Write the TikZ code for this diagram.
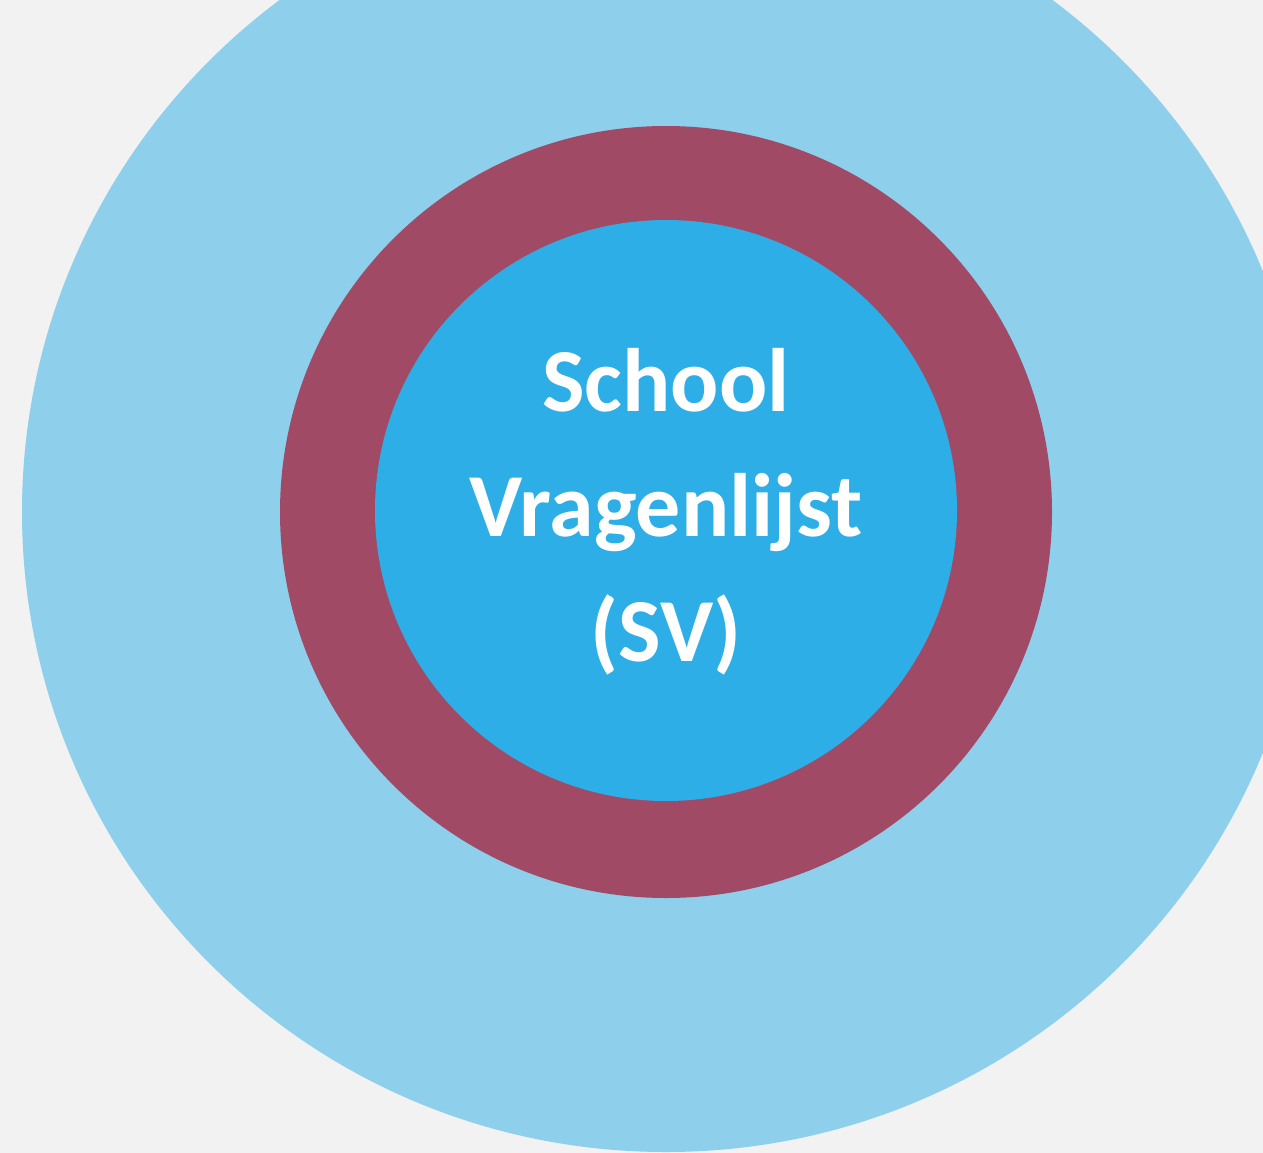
\documentclass[tikz,border=0pt]{standalone}
\usepackage{fontspec}
\setmainfont{Carlito}
\definecolor{bgc}{HTML}{F2F2F2}
\definecolor{outerc}{HTML}{8ECFEB}
\definecolor{ringc}{HTML}{A04A66}
\definecolor{innerc}{HTML}{2EAEE6}
\begin{document}
\begin{tikzpicture}[x=1pt,y=-1pt,
  lbl/.style={text=white,font=\bfseries\fontsize{90}{90}\selectfont,anchor=base,inner sep=0pt}]
\useasboundingbox (0,0) rectangle (1263,1153);
\fill[bgc] (0,0) rectangle (1263,1153);
\begin{scope}
\clip (0,0) rectangle (1263,1153);
\fill[outerc] (666,512) ellipse [x radius=644, y radius=640];
\end{scope}
\fill[ringc] (666,512) ellipse [x radius=386, y radius=386];
\fill[innerc] (666,510.5) ellipse [x radius=291, y radius=290.5];
\node[lbl] (l1) at (666,411) {School};
\node[lbl] (l2) at (666,536) {Vragenlijst};
\node[lbl] (l3) at (666,661) {(SV)};
\end{tikzpicture}
\end{document}
